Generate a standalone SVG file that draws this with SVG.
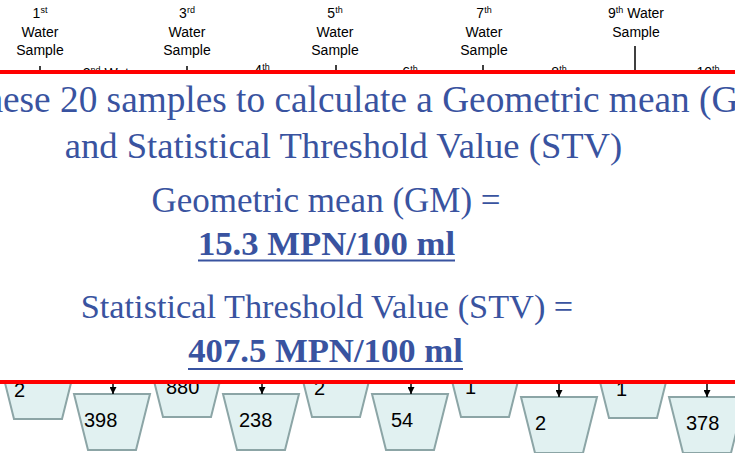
<svg xmlns="http://www.w3.org/2000/svg" width="735" height="453" viewBox="0 0 735 453">
<defs>
<marker id="ah" viewBox="0 0 10 10" refX="10" refY="5" markerWidth="7" markerHeight="7" orient="auto" markerUnits="userSpaceOnUse"><path d="M0,0 L10,5 L0,10 z" fill="#000"/></marker>
</defs>
<style>
.lbl{font-family:"Liberation Sans",Arial,sans-serif;font-size:14px;fill:#000;text-anchor:middle}
.bk{fill:#E1F1F1;stroke:#8CA5A6;stroke-width:2}
.val{font-family:"Liberation Sans",Arial,sans-serif;font-size:20px;fill:#000}
.tk{stroke:#000;stroke-width:1.5;fill:none}
.ar{stroke:#000;stroke-width:1.5;fill:none;marker-end:url(#ah)}
.ttl{font-family:"Liberation Serif","Times New Roman",serif;fill:#3953A0;text-anchor:middle}
.ul{stroke:#3953A0;stroke-width:2}
.red{stroke:#FF0000;stroke-width:4}
</style>
<rect width="735" height="453" fill="#fff"/>

<g id="sample1">
<text class="lbl" x="40" y="18">1<tspan font-size="9" dy="-5">st</tspan></text>
<text class="lbl" x="40" y="37">Water</text>
<text class="lbl" x="40" y="55">Sample</text>
<polygon class="bk" points="0,363 76,363 62,419 14,419"/>
<text class="val" x="14" y="397">2</text>
</g>
<g id="sample2">
<text class="lbl" x="112" y="78">2<tspan font-size="9" dy="-5">nd</tspan><tspan dy="5"> Water</tspan></text>
<polygon class="bk" points="74,394 150,394 136,450 88,450"/>
<text class="val" x="84" y="427">398</text>
</g>
<g id="sample3">
<text class="lbl" x="187" y="18">3<tspan font-size="9" dy="-5">rd</tspan></text>
<text class="lbl" x="187" y="37">Water</text>
<text class="lbl" x="187" y="55">Sample</text>
<polygon class="bk" points="149,361 225,361 211,417 163,417"/>
<text class="val" x="166" y="394">880</text>
</g>
<g id="sample4">
<text class="lbl" x="262" y="74.5">4<tspan font-size="9" dy="-5">th</tspan></text>
<polygon class="bk" points="223,394 299,394 285,450 237,450"/>
<text class="val" x="239" y="427">238</text>
</g>
<g id="sample5">
<text class="lbl" x="335" y="18">5<tspan font-size="9" dy="-5">th</tspan></text>
<text class="lbl" x="335" y="37">Water</text>
<text class="lbl" x="335" y="55">Sample</text>
<polygon class="bk" points="298,361 374,361 360,417 312,417"/>
<text class="val" x="314" y="395">2</text>
</g>
<g id="sample6">
<text class="lbl" x="410" y="77">6<tspan font-size="9" dy="-5">th</tspan></text>
<polygon class="bk" points="372,394 448,394 434,450 386,450"/>
<text class="val" x="391" y="427">54</text>
</g>
<g id="sample7">
<text class="lbl" x="484" y="18">7<tspan font-size="9" dy="-5">th</tspan></text>
<text class="lbl" x="484" y="37">Water</text>
<text class="lbl" x="484" y="55">Sample</text>
<polygon class="bk" points="447,361 523,361 509,417 461,417"/>
<text class="val" x="465" y="394">1</text>
</g>
<g id="sample8">
<text class="lbl" x="559" y="77">8<tspan font-size="9" dy="-5">th</tspan></text>
<polygon class="bk" points="521,397 597,397 583,453 535,453"/>
<text class="val" x="535" y="430">2</text>
</g>
<g id="sample9">
<text class="lbl" x="636" y="18">9<tspan font-size="9" dy="-5">th</tspan><tspan dy="5"> Water</tspan></text>
<text class="lbl" x="636" y="37">Sample</text>
<polygon class="bk" points="595,362 671,362 657,418 609,418"/>
<text class="val" x="616" y="396">1</text>
</g>
<g id="sample10">
<text class="lbl" x="708" y="76.5">10<tspan font-size="9" dy="-5">th</tspan></text>
<polygon class="bk" points="669,397 745,397 731,453 683,453"/>
<text class="val" x="686" y="430">378</text>
</g>

<g id="connectors">
<line class="tk" x1="40" y1="66" x2="40" y2="72"/>
<line class="tk" x1="187" y1="66" x2="187" y2="72"/>
<line class="tk" x1="336" y1="65" x2="336" y2="72"/>
<line class="tk" x1="483" y1="65" x2="483" y2="72"/>
<line class="tk" x1="635" y1="46" x2="635" y2="72"/>
<line class="ar" x1="113" y1="380" x2="113" y2="394"/>
<line class="ar" x1="262" y1="380" x2="262" y2="394"/>
<line class="ar" x1="411" y1="380" x2="411" y2="394"/>
<line class="ar" x1="559" y1="380" x2="559" y2="397"/>
<line class="ar" x1="707" y1="380" x2="707" y2="397"/>
</g>

<g id="panel">
<rect x="0" y="72" width="735" height="310" fill="#fff"/>
<line class="red" x1="0" y1="72" x2="735" y2="72"/>
<line class="red" x1="0" y1="382" x2="735" y2="382"/>
<text class="ttl" x="-15.6" y="112" font-size="37.3" style="text-anchor:start">hese 20 samples to calculate a Geometric mean (G</text>
<text class="ttl" x="343.5" y="158" font-size="36.6">and Statistical Threshold Value (STV)</text>
<text class="ttl" x="326" y="212" font-size="35">Geometric mean (GM) =</text>
<text class="ttl" x="326.5" y="255" font-size="34.7" font-weight="bold">15.3 MPN/100 ml</text>
<line class="ul" x1="198" y1="260.5" x2="455" y2="260.5"/>
<text class="ttl" x="327" y="318" font-size="34.3">Statistical Threshold Value (STV) =</text>
<text class="ttl" x="325.5" y="362" font-size="34.7" font-weight="bold">407.5 MPN/100 ml</text>
<line class="ul" x1="188" y1="369" x2="463" y2="369"/>
</g>
</svg>
